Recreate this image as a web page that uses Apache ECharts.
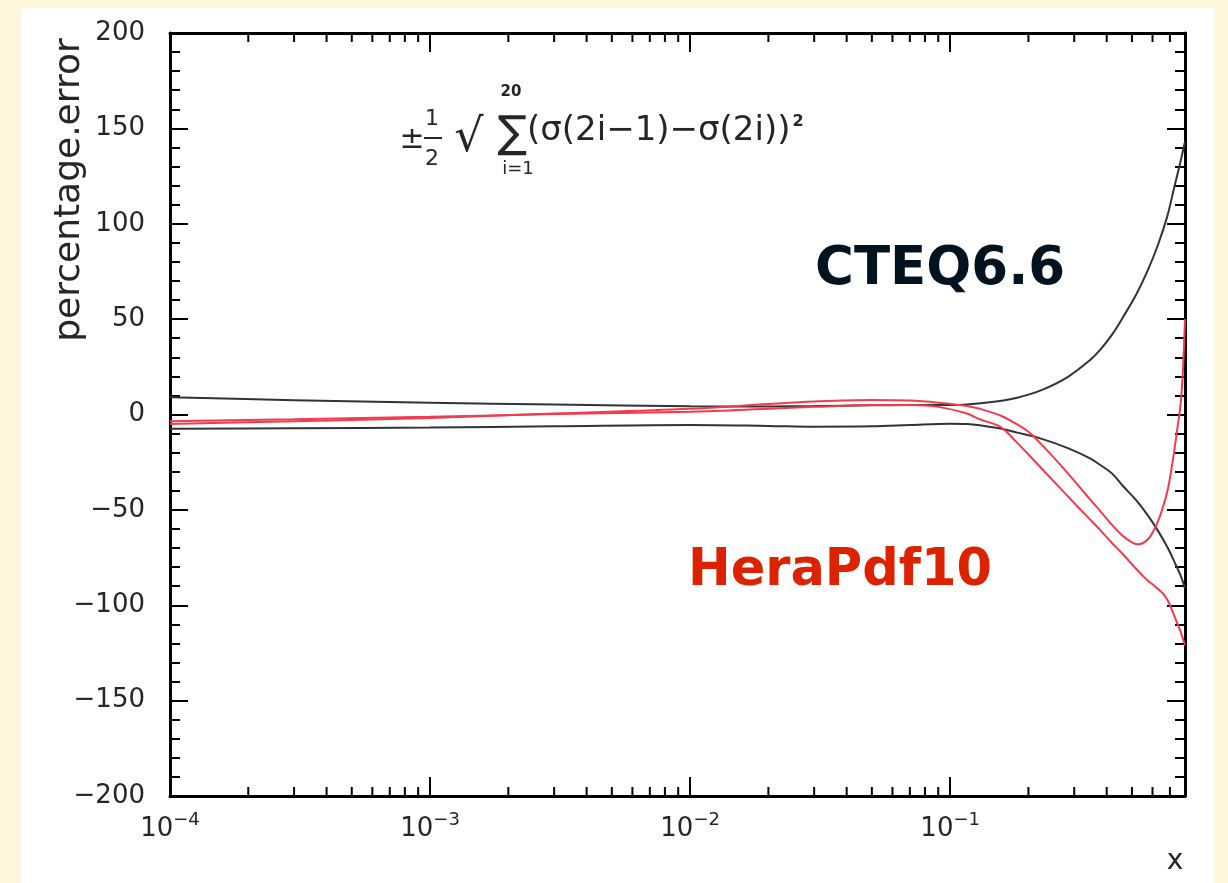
<!DOCTYPE html>
<html><head><meta charset="utf-8">
<script src="https://cdn.jsdelivr.net/npm/echarts@6/dist/echarts.min.js"></script>
<style>html,body{margin:0;padding:0;background:#FFF7DC;} #main{width:1228px;height:883px;}</style>
</head><body><div id="main"></div>
<script>
// ---- data ----
const xMin = 1e-4, xMax = 0.8;
const yMin = -200, yMax = 200, yStep = 50;
const xMinorTicks = [2e-4,3e-4,4e-4,5e-4,6e-4,7e-4,8e-4,9e-4,
  2e-3,3e-3,4e-3,5e-3,6e-3,7e-3,8e-3,9e-3,
  2e-2,3e-2,4e-2,5e-2,6e-2,7e-2,8e-2,9e-2,
  0.2,0.3,0.4,0.5,0.6,0.7,0.8];

const cteqX    = [1e-4, 3e-4, 1e-3, 3e-3, 1e-2, 0.02, 0.03, 0.05, 0.07, 0.1, 0.116, 0.15, 0.181, 0.222, 0.282, 0.345, 0.378, 0.42, 0.462, 0.52, 0.573, 0.63, 0.684, 0.73, 0.767, 0.8];
const cteqUp   = [9, 7.5, 6.2, 5.2, 4.3, 4.2, 4.4, 4.8, 5, 5, 5.3, 6.8, 8.8, 12.5, 19.5, 28.5, 34, 42, 51, 63, 75, 89, 104, 120, 132, 143];
const cteqDown = [-7.5, -7.2, -6.8, -6.2, -5.5, -6, -6.4, -6.2, -5.5, -4.8, -5, -7, -9.5, -12.5, -17.5, -23, -26.5, -31, -37.5, -45, -52.5, -61, -69.5, -77.5, -84, -91];

const heraX = [1e-4, 3e-4, 1e-3, 3e-3, 1e-2, 0.02, 0.03, 0.05, 0.07, 0.09, 0.116, 0.13, 0.156, 0.18, 0.2, 0.222, 0.25, 0.282, 0.31, 0.345, 0.38, 0.42, 0.46, 0.5, 0.524, 0.55, 0.58, 0.6, 0.63, 0.66, 0.69, 0.72, 0.75, 0.77, 0.785, 0.8];
const heraA = [-5, -3.5, -1.8, 0.5, 3, 5.5, 6.8, 7.6, 7.3, 6.2, 4.5, 3, -0.5, -5, -9, -15, -22.5, -30.5, -37, -44.5, -51, -58, -63.5, -67, -68, -67.5, -65, -62, -56, -48, -38, -23, -6, 6, 22, 50];
const heraB = [-3.5, -2.5, -1.2, 0.2, 1.5, 3, 4, 5, 5, 4, 0.5, -2.5, -6.5, -14.5, -21, -27.5, -35, -42.5, -48.5, -55, -61, -67.5, -73, -78.5, -81.5, -84.5, -87.5, -89, -91.5, -94, -98, -104, -110, -114, -117.5, -121];

const zip = (xs, ys) => xs.map((x, i) => [x, ys[i]]);
const FONT = '"DejaVu Sans", sans-serif';
const INK = '#262626';

const chart = echarts.init(document.getElementById('main'));

const xAxisBase = {
  type: 'log', logBase: 10, min: xMin, max: xMax,
  axisLine: { show: true, onZero: false, lineStyle: { color: '#000', width: 3 } },
  axisTick: { show: true, inside: true, length: 19, lineStyle: { color: '#000', width: 2 } },
  splitLine: { show: false },
  minorTick: { show: false }
};
const yAxisBase = {
  type: 'value', min: yMin, max: yMax, interval: yStep,
  axisLine: { show: true, onZero: false, lineStyle: { color: '#000', width: 3 } },
  axisTick: { show: true, inside: true, length: 18, lineStyle: { color: '#000', width: 2 } },
  minorTick: { show: true, splitNumber: 5, length: 10, lineStyle: { color: '#000', width: 2 } },
  splitLine: { show: false }
};

function txt(text, x, y, size, opts) {
  opts = opts || {};
  return {
    type: 'text', x: x, y: y, z: 50, silent: true, rotation: opts.rotation || 0,
    style: {
      text: text, font: (opts.weight || 'normal') + ' ' + size + 'px ' + (opts.family || FONT),
      fill: opts.color || INK,
      align: opts.align || 'center', verticalAlign: 'middle',
      textAlign: opts.align || 'center', textVerticalAlign: 'middle'
    }
  };
}

const lineCommon = { type: 'line', showSymbol: false, smooth: 0.35 };

chart.setOption({
  backgroundColor: '#FFF7DC',
  animation: false,
  grid: { left: 170, top: 33, right: 43, bottom: 87, containLabel: false },
  xAxis: [
    Object.assign({}, xAxisBase, {
      position: 'bottom',
      axisLabel: {
        margin: 15,
        formatter: function (v) {
          const e = Math.log10(v), r = Math.round(e);
          if (Math.abs(e - r) > 1e-6) return '';
          return '{b|10}{s|' + (r < 0 ? '\u2212' : '') + Math.abs(r) + '}';
        },
        rich: {
          b: { fontSize: 26, fontFamily: FONT, color: INK },
          s: { fontSize: 18, fontFamily: FONT, color: INK, padding: [0, 0, 18, 0] }
        }
      }
    }),
    Object.assign({}, xAxisBase, { position: 'top', axisLabel: { show: false } })
  ],
  yAxis: [
    Object.assign({}, yAxisBase, {
      position: 'left',
      axisLabel: {
        margin: 25, fontSize: 26, fontFamily: FONT, color: INK,
        formatter: v => String(v).replace('-', '\u2212')
      }
    }),
    Object.assign({}, yAxisBase, { position: 'right', axisLabel: { show: false } })
  ],
  graphic: [
    { type: 'rect', silent: true, z: -10, shape: { x: 21, y: 8, width: 1193, height: 880 }, style: { fill: '#ffffff' } },
    txt('percentage.error', 70, 190, 36, { rotation: Math.PI / 2 }),
    txt('x', 1175, 862, 28),
    // formula
    txt('\u00b1', 412, 140, 30),
    txt('1', 432, 119, 22),
    { type: 'line', z: 50, silent: true, shape: { x1: 424, y1: 138, x2: 442, y2: 138 }, style: { stroke: INK, lineWidth: 2 } },
    txt('2', 432, 159, 22),
    txt('\u221a', 469, 139, 46),
    txt('\u2211', 512, 136, 44),
    txt('20', 511, 92, 15, { weight: 'bold' }),
    txt('i=1', 518, 169, 18),
    txt('(\u03c3(2i\u22121)\u2212\u03c3(2i))', 527, 131, 34, { align: 'left' }),
    txt('2', 798, 122, 16, { weight: 'bold' }),
    // annotations
    txt('CTEQ6.6', 815, 270, 53, { weight: 'bold', color: '#03121F', align: 'left' }),
    txt('HeraPdf10', 688, 572, 51, { weight: 'bold', color: '#DD2200', align: 'left' })
  ],
  series: [
    Object.assign({ name: 'CTEQ6.6 +', data: zip(cteqX, cteqUp), lineStyle: { color: '#333', width: 2 }, z: 3 }, lineCommon),
    Object.assign({ name: 'CTEQ6.6 \u2212', data: zip(cteqX, cteqDown), lineStyle: { color: '#333', width: 2 }, z: 3 }, lineCommon),
    Object.assign({ name: 'HeraPdf10 a', data: zip(heraX, heraA), lineStyle: { color: '#F23B4E', width: 2 }, z: 4 }, lineCommon),
    Object.assign({ name: 'HeraPdf10 b', data: zip(heraX, heraB), lineStyle: { color: '#F23B4E', width: 2 }, z: 4 }, lineCommon),
    { name: 'minor x ticks', type: 'custom', silent: true, clip: false, z: 5,
      data: xMinorTicks.map(v => [v, 0]),
      renderItem: function (params, api) {
        const x = api.value(0);
        const b = api.coord([x, yMin]);
        const t = api.coord([x, yMax]);
        const st = { stroke: '#000', lineWidth: 2 };
        return { type: 'group', children: [
          { type: 'line', shape: { x1: b[0], y1: b[1], x2: b[0], y2: b[1] - 9 }, style: st },
          { type: 'line', shape: { x1: t[0], y1: t[1], x2: t[0], y2: t[1] + 9 }, style: st }
        ] };
      }
    }
  ]
});
</script></body></html>
